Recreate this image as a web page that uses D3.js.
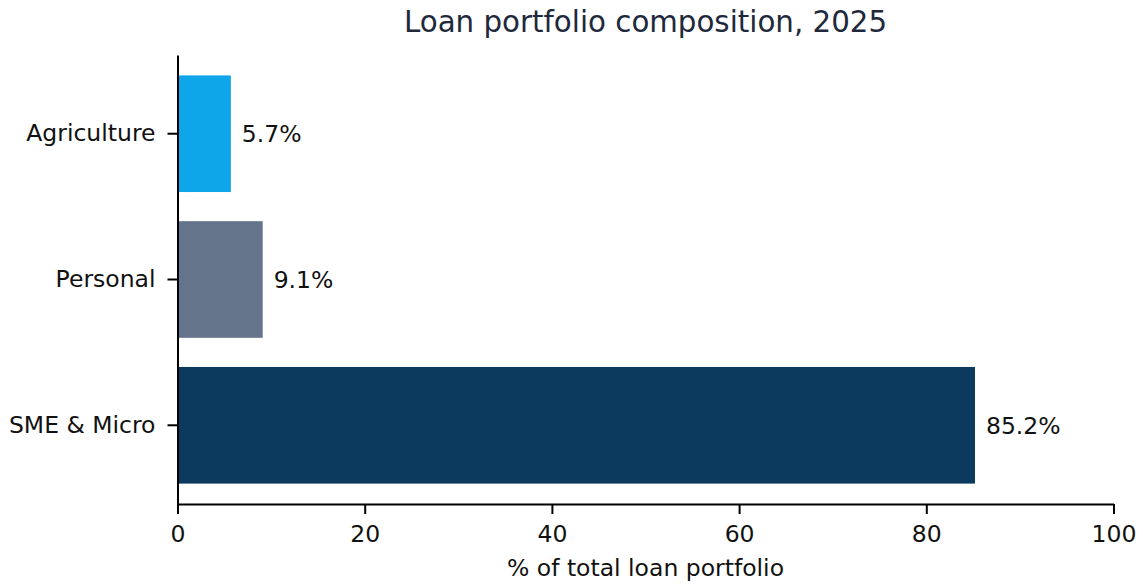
<!DOCTYPE html>
<html>
<head>
<meta charset="utf-8">
<script src="https://cdn.jsdelivr.net/npm/d3@7"></script>
<style>
  html, body { margin: 0; padding: 0; background: #ffffff; }
  svg { display: block; font-family: "DejaVu Sans", sans-serif; }
</style>
</head>
<body>
<svg id="chart" width="1143" height="588"></svg>
<script>
// Loan portfolio shares, listed top to bottom
const categories = ["Agriculture", "Personal", "SME & Micro"];
const shares = [5.7, 9.1, 85.2];
const barColors = ["#0ea5e9", "#64748b", "#0b3a5e"];
const xTicks = [0, 20, 40, 60, 80, 100];

const svg = d3.select("#chart");
const plotLeft = 177.5, plotRight = 1113.5, plotTop = 55, plotBottom = 504;
const labelSize = 23.5;

const x = d3.scaleLinear().domain([0, 100]).range([plotLeft, plotRight]);
const y = d3.scaleBand().domain(categories).range([plotTop, plotBottom])
  .paddingInner(0.2).paddingOuter(0.14);

const data = categories.map((c, i) => ({ cat: c, val: shares[i], color: barColors[i] }));

// bars
svg.append("g").selectAll("rect").data(data).join("rect")
  .attr("x", x(0))
  .attr("y", d => y(d.cat))
  .attr("width", d => x(d.val) - x(0))
  .attr("height", y.bandwidth())
  .attr("fill", d => d.color);

// value labels
svg.append("g").selectAll("text").data(data).join("text")
  .attr("x", d => x(d.val) + 11)
  .attr("y", d => y(d.cat) + y.bandwidth() / 2)
  .attr("dy", "0.36em")
  .attr("font-size", labelSize)
  .attr("fill", "#111")
  .text(d => d.val.toFixed(1) + "%");

// x axis
const xAxis = svg.append("g").attr("transform", `translate(0,${plotBottom})`)
  .call(d3.axisBottom(x).tickValues(xTicks).tickSize(10).tickPadding(11).tickSizeOuter(0));
xAxis.select(".domain").attr("stroke", "#000").attr("stroke-width", 2);
xAxis.selectAll(".tick line").attr("stroke", "#000").attr("stroke-width", 2);
xAxis.selectAll(".tick text").attr("font-size", labelSize).attr("font-family", "DejaVu Sans").attr("fill", "#111");

// y axis
const yAxis = svg.append("g").attr("transform", `translate(${plotLeft},0)`)
  .call(d3.axisLeft(y).tickSize(10).tickPadding(12).tickSizeOuter(0));
yAxis.select(".domain").attr("stroke", "#000").attr("stroke-width", 2);
yAxis.selectAll(".tick line").attr("stroke", "#000").attr("stroke-width", 2);
yAxis.selectAll(".tick text").attr("font-size", labelSize).attr("font-family", "DejaVu Sans").attr("fill", "#111");

// axis title
svg.append("text")
  .attr("x", (plotLeft + plotRight) / 2).attr("y", 576)
  .attr("text-anchor", "middle")
  .attr("font-size", labelSize)
  .attr("fill", "#111")
  .text("% of total loan portfolio");

// chart title
svg.append("text")
  .attr("x", (plotLeft + plotRight) / 2).attr("y", 32)
  .attr("text-anchor", "middle")
  .attr("font-size", 29.3)
  .attr("fill", "#1e293b")
  .text("Loan portfolio composition, 2025");
</script>
</body>
</html>
